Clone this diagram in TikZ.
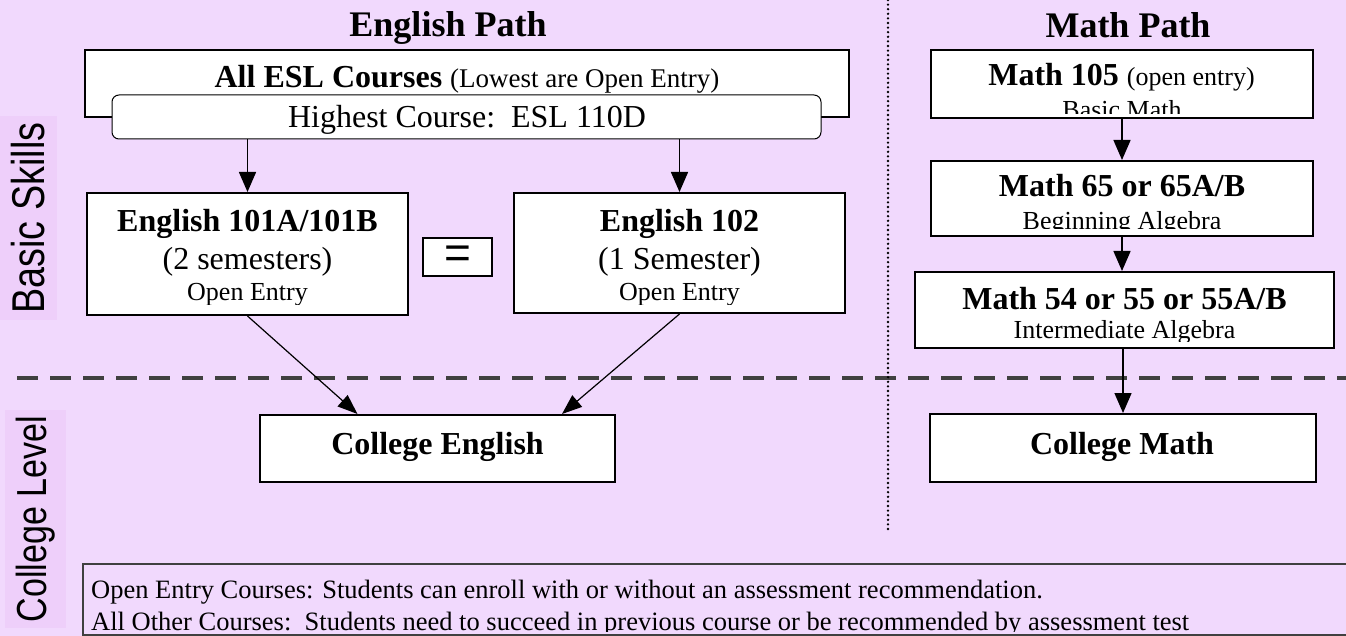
\documentclass[tikz,border=0pt]{standalone}
\usepackage{fontspec}
\setmainfont{Liberation Serif}
\newfontfamily\sidefont{Liberation Sans}
\usetikzlibrary{arrows.meta}
\definecolor{lilac}{RGB}{241,217,253}
\definecolor{lilacband}{RGB}{238,207,250}
\definecolor{rulegray}{RGB}{64,64,64}

\begin{document}
\begin{tikzpicture}[x=1pt,y=-1pt]
\tikzstyle{Course}=[draw, line width=2pt, fill=white, inner sep=0pt];
\tikzstyle{Head}=[anchor=base, inner sep=0pt, font=\bfseries\fontsize{36}{36}\selectfont];
\tikzstyle{Big}=[anchor=base, inner sep=0pt, font=\fontsize{32}{32}\selectfont];
\tikzstyle{Small}=[anchor=base, inner sep=0pt, font=\fontsize{26}{26}\selectfont];
\tikzstyle{Side}=[rotate=90, fill=lilacband, inner sep=0pt, font=\sidefont];
\tikzstyle{seq}=[-{Triangle[length=20pt,width=17pt]}, line width=1.5pt];
\tikzstyle{merge}=[-{Triangle[length=20pt,width=15pt]}, line width=1.2pt];

\fill[lilac] (0,0) rectangle (1346,636);
\useasboundingbox (0,0) rectangle (1346,636);

% row labels
\node[Side, minimum width=204pt, minimum height=57pt] (basic) at (28.5,218) {\fontsize{46}{46}\selectfont\scalebox{0.82}[1]{Basic Skills}};
\node[Side, minimum width=218pt, minimum height=61pt] (college) at (35.5,519) {\fontsize{42}{42}\selectfont\scalebox{0.81}[1]{College Level}};

% dividers
\draw[rulegray, line width=4pt, dash pattern=on 21pt off 12pt] (17,378) -- (1346,378);
\draw[line width=2.6pt, line cap=round, dash pattern=on 0pt off 4.6pt] (888,0) -- (888,532);

\node[Head] (etitle) at (448,37) {English Path};
\node[Head] (mtitle) at (1128,38) {Math Path};

% english path
\node[Course, minimum width=764pt, minimum height=67pt] (esl) at (467,83.5) {};
\node[Big] (eslt) at (467,88) {\textbf{All ESL Courses} {\fontsize{27}{27}\selectfont(Lowest are Open Entry)}};
\node[Course, line width=1pt, rounded corners=7pt, minimum width=709pt, minimum height=44pt] (hc) at (466.5,117) {};
\node[Big] (hct) at (467,128) {Highest Course:\ \ ESL 110D};

\node[Course, minimum width=321pt, minimum height=122pt] (e101) at (247.5,254) {};
\node[Big] (e101a) at (247.5,232) {\textbf{English 101A/101B}};
\node[Big] (e101b) at (247.5,270) {(2 semesters)};
\begin{scope}
\clip (e101.north west) rectangle ([yshift=12pt]e101.south east);
\node[Small] (e101c) at (247.5,301) {Open Entry};
\end{scope}

\node[Course, minimum width=69pt, minimum height=38pt, font=\sidefont\fontsize{46}{46}\selectfont] (eq) at (457.5,257.5) {=};

\node[Course, minimum width=331pt, minimum height=120pt] (e102) at (679.5,253) {};
\node[Big] (e102a) at (679.5,232) {\textbf{English 102}};
\node[Big] (e102b) at (679.5,270) {(1 Semester)};
\begin{scope}
\clip (e102.north west) rectangle ([yshift=10pt]e102.south east);
\node[Small] (e102c) at (679.5,301) {Open Entry};
\end{scope}

\node[Course, minimum width=355pt, minimum height=67pt] (ce) at (437.5,448.5) {};
\node[Big] (cet) at (437.5,454) {\textbf{College English}};

% math path
\node[Course, minimum width=382pt, minimum height=68pt] (m105) at (1122,84) {};
\node[Big] (m105a) at (1121.5,86) {\textbf{Math 105} {\fontsize{26}{26}\selectfont(open entry)}};
\begin{scope}
\clip (m105.north west) rectangle ([yshift=5pt]m105.south east);
\node[Small] (m105b) at (1122,119) {Basic Math};
\end{scope}

\node[Course, minimum width=382pt, minimum height=75pt] (m65) at (1122,198.5) {};
\node[Big] (m65a) at (1122,197) {\textbf{Math 65 or 65A/B}};
\begin{scope}
\clip (m65.north west) rectangle ([yshift=8pt]m65.south east);
\node[Small] (m65b) at (1122,230) {Beginning Algebra};
\end{scope}

\node[Course, minimum width=419pt, minimum height=76pt] (m54) at (1124.5,310) {};
\node[Big] (m54a) at (1124.5,309) {\textbf{Math 54 or 55 or 55A/B}};
\begin{scope}
\clip (m54.north west) rectangle ([yshift=8pt]m54.south east);
\node[Small] (m54b) at (1124.5,338.5) {Intermediate Algebra};
\end{scope}

\node[Course, minimum width=386pt, minimum height=68pt] (cm) at (1123,448) {};
\node[Big] (cmt) at (1122,454) {\textbf{College Math}};

% note
\node[draw=rulegray, line width=1.5pt, fill=lilac, inner sep=0pt, minimum width=1270pt, minimum height=71pt] (note) at (718,599.5) {};
\node[Small, anchor=base west, font=\fontsize{26.5}{26.5}\selectfont] (note1) at (91,598) {Open Entry Courses: Students can enroll with or without an assessment recommendation.};
\begin{scope}
\clip (note.north west) rectangle ([yshift=4pt]note.south east);
\node[Small, anchor=base west, font=\fontsize{26.5}{26.5}\selectfont] (note2) at (91,630) {All Other Courses:\ \ Students need to succeed in previous course or be recommended by assessment test};
\end{scope}

% arrows
\draw[seq] (hc.south -| e101.north) -- (e101.north);
\draw[seq] (hc.south -| e102.north) -- (e102.north);
\draw[merge] (e101.south) -- ([xshift=-80pt]ce.north);
\draw[merge] (e102.south) -- ([xshift=124.5pt]ce.north);
\draw[seq] (m105) -- (m65);
\draw[seq] (m65.south) -- (m65.south |- m54.north);
\draw[seq] (cm.north |- m54.south) -- (cm.north);
\end{tikzpicture}
\end{document}
